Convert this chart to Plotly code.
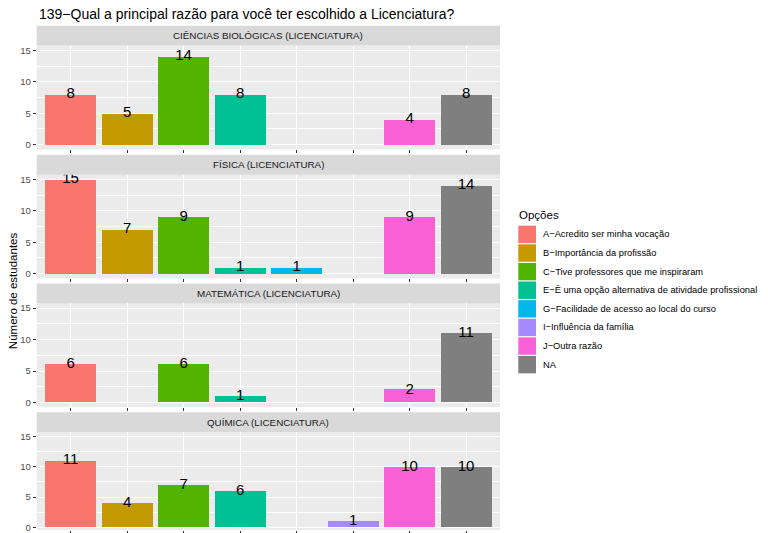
import plotly.graph_objects as go
from plotly.subplots import make_subplots

title = "139−Qual a principal razão para você ter escolhido a Licenciatura?"
legend_title = "Opções"
y_title = "Número de estudantes"
options = ["A−Acredito ser minha vocação", "B−Importância da profissão",
           "C−Tive professores que me inspiraram",
           "E−Ê uma opção alternativa de atividade profissional",
           "G−Facilidade de acesso ao local do curso", "I−Influência da família",
           "J−Outra razão", "NA"]
colors = ["#F8766D", "#C49A00", "#53B400", "#00C094", "#00B6EB", "#A58AFF", "#FB61D7", "#7F7F7F"]
courses = ["CIÊNCIAS BIOLÓGICAS (LICENCIATURA)", "FÍSICA (LICENCIATURA)",
           "MATEMÁTICA (LICENCIATURA)", "QUÍMICA (LICENCIATURA)"]
bio = [8, 5, 14, 8, None, None, 4, 8]
fis = [15, 7, 9, 1, 1, None, 9, 14]
mat = [6, None, 6, 1, None, None, 2, 11]
qui = [11, 4, 7, 6, None, 1, 10, 10]
y_ticks = [0, 5, 10, 15]
series = [bio, fis, mat, qui]

FONT = "Liberation Sans, Arial, sans-serif"
W, H = 768, 533
SY = 1.008  # vertical correction

fig = make_subplots(rows=4, cols=1)

x0, x1 = 36.7, 500.0
plot_tops = [44.6, 173.6, 302.3, 430.8]
ph = 103.7
strip_h = 19.8

def fx(p):
    return p / W

def fy(p):
    return 1 - (p * SY) / H

shapes = []
annotations = []
for i, (course, vals) in enumerate(zip(courses, series)):
    r = i + 1
    xs = [o for o, v in zip(options, vals) if v is not None]
    ys = [v for v in vals if v is not None]
    cs = [c for c, v in zip(colors, vals) if v is not None]
    fig.add_trace(go.Bar(x=xs, y=ys, marker=dict(color=cs, line=dict(width=0)),
                         width=0.9, showlegend=False, hoverinfo="x+y"), row=r, col=1)
    fig.add_trace(go.Scatter(x=xs, y=ys, mode="text", text=[str(v) for v in ys],
                             textposition="middle center", cliponaxis=True,
                             textfont=dict(size=15, color="black", family=FONT),
                             showlegend=False, hoverinfo="skip"), row=r, col=1)
    top = plot_tops[i]
    bottom = top + ph
    if bottom * SY > H:
        y_lo = -0.45
        dom = [0, fy(top)]
    else:
        y_lo = -0.75
        dom = [fy(bottom), fy(top)]
    fig.update_yaxes(domain=dom, range=[y_lo, 15.75], tickvals=y_ticks,
                     ticks="outside", ticklen=3, tickcolor="#333333",
                     tickfont=dict(size=9.5, color="#4D4D4D", family=FONT),
                     showgrid=True, gridcolor="white", gridwidth=1.1,
                     minor=dict(dtick=2.5, tick0=0, showgrid=True, gridcolor="white",
                                gridwidth=0.5, ticks=""),
                     zeroline=False, showline=False, row=r, col=1)
    fig.update_xaxes(domain=[fx(x0), fx(x1)], type="category",
                     categoryorder="array", categoryarray=options,
                     range=[-0.6, 7.6], showticklabels=False, ticks="outside",
                     ticklen=3, tickcolor="#333333", showgrid=True,
                     gridcolor="white", gridwidth=1.1, zeroline=False,
                     showline=False, row=r, col=1)
    shapes.append(dict(type="rect", xref="paper", yref="paper",
                       x0=fx(x0), x1=fx(x1), y0=fy(top), y1=fy(top - strip_h),
                       fillcolor="#D9D9D9", line=dict(width=0), layer="below"))
    annotations.append(dict(text=course, xref="paper", yref="paper",
                            x=fx((x0 + x1) / 2), y=fy(top - strip_h / 2),
                            xanchor="center", yanchor="middle", showarrow=False,
                            font=dict(size=9.8, color="#1A1A1A", family=FONT)))

annotations.append(dict(text=title, xref="paper", yref="paper", x=fx(37), y=fy(12.5),
                        xanchor="left", yanchor="middle", showarrow=False,
                        font=dict(size=14, color="black", family=FONT)))
annotations.append(dict(text=y_title, xref="paper", yref="paper", x=fx(13), y=fy(290),
                        xanchor="center", yanchor="middle", showarrow=False,
                        textangle=-90, font=dict(size=11.5, color="black", family=FONT)))
annotations.append(dict(text=legend_title, xref="paper", yref="paper", x=fx(517), y=fy(214),
                        xanchor="left", yanchor="middle", showarrow=False,
                        font=dict(size=11.5, color="black", family=FONT)))
key_top = 224.0
key_h = 18.6
for j, (opt, col) in enumerate(zip(options, colors)):
    t = key_top + j * key_h
    shapes.append(dict(type="rect", xref="paper", yref="paper",
                       x0=fx(518.3), x1=fx(536), y0=fy(t + key_h - 0.6), y1=fy(t + 0.6),
                       fillcolor=col, line=dict(width=0)))
    annotations.append(dict(text=opt, xref="paper", yref="paper", x=fx(541), y=fy(t + key_h / 2),
                            xanchor="left", yanchor="middle", showarrow=False,
                            font=dict(size=9.3, color="black", family=FONT)))

fig.update_layout(width=W, height=H, margin=dict(l=0, r=0, t=0, b=0),
                  plot_bgcolor="#EBEBEB", paper_bgcolor="white",
                  shapes=shapes, annotations=annotations, bargap=0,
                  font=dict(family=FONT))
fig.write_html("out.html", config={"displayModeBar": False},
               post_script="document.body.style.margin='0';document.body.style.overflow='hidden';")
